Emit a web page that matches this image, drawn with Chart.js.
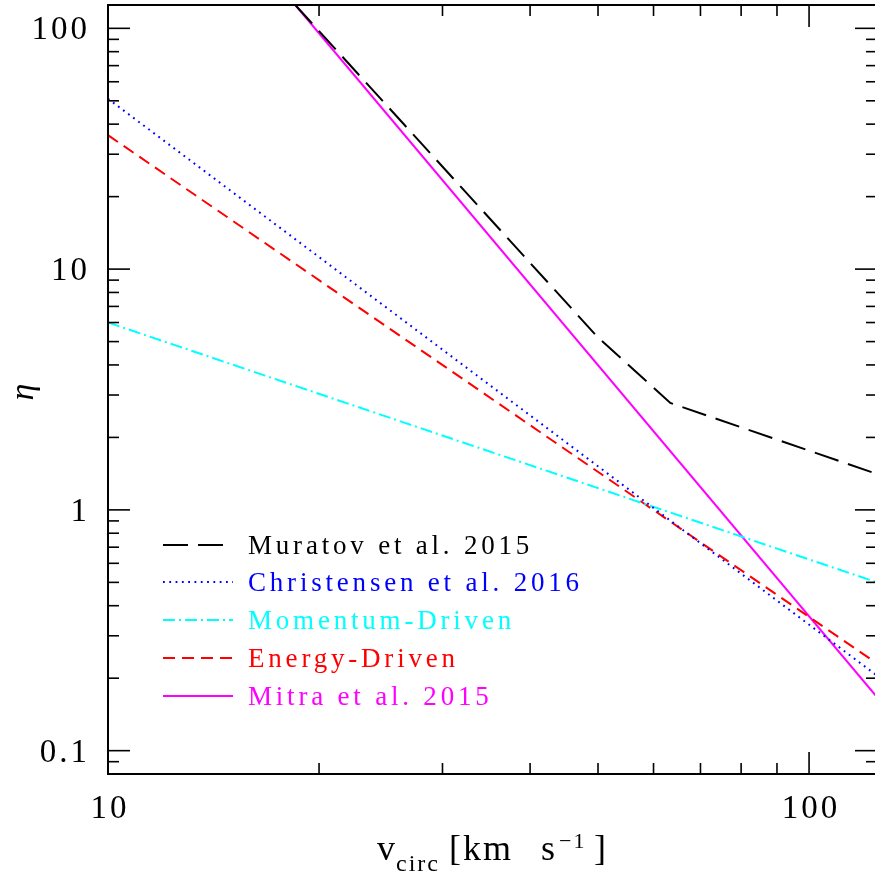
<!DOCTYPE html>
<html>
<head>
<meta charset="UTF-8">
<script src="https://cdn.jsdelivr.net/npm/chart.js"></script>
<style>
  html, body { margin: 0; padding: 0; background: #fff; overflow: hidden; }
  #wrap { width: 878px; height: 875px; }
</style>
</head>
<body>
<div id="wrap"><canvas id="etaChart" width="878" height="875"></canvas></div>
<script>
// values (v_circ in km/s, eta = mass loading)
const seriesNames = ["Muratov et al. 2015", "Christensen et al. 2016", "Momentum-Driven", "Energy-Driven", "Mitra et al. 2015"];
const muratovV = [18.5, 50, 63.4, 125];
const muratovEta = [125, 5.2, 2.78, 1.41];
const christensenV = [10, 125];
const christensenEta = [51, 0.205];
const momentumV = [10, 125];
const momentumEta = [6.0, 0.5];
const energyV = [10, 125];
const energyEta = [36, 0.23];
const mitraV = [18.5, 125];
const mitraEta = [125, 0.167];

const xTickLabels = [10, 100];
const yTickLabels = [0.1, 1, 10, 100];

function pts(xs, ys) {
    return xs.map((v, i) => ({x: v, y: ys[i]}));
}

const serif = '"Liberation Serif", "DejaVu Serif", serif';

const datasets = [
    {label: seriesNames[0], data: pts(muratovV, muratovEta), borderColor: '#000000', borderDash: [25, 10]},
    {label: seriesNames[1], data: pts(christensenV, christensenEta), borderColor: '#0000ff', borderDash: [1.8, 4.5]},
    {label: seriesNames[2], data: pts(momentumV, momentumEta), borderColor: '#00ffff', borderDash: [12, 4, 2, 4]},
    {label: seriesNames[3], data: pts(energyV, energyEta), borderColor: '#ff0000', borderDash: [12, 7]},
    {label: seriesNames[4], data: pts(mitraV, mitraEta), borderColor: '#ff00ff', borderDash: []},
];
datasets.forEach(d => {
    d.borderWidth = 2;
    d.pointRadius = 0;
    d.tension = 0;
    d.fill = false;
    d.borderCapStyle = 'butt';
});

function seg(ctx, x1, y1, x2, y2) {
    ctx.beginPath();
    ctx.moveTo(x1, y1);
    ctx.lineTo(x2, y2);
    ctx.stroke();
}

const axesPlugin = {
    id: 'axesPlugin',
    afterDraw(chart) {
        const ctx = chart.ctx;
        const a = chart.chartArea;
        const xs = chart.scales.x, ys = chart.scales.y;
        ctx.save();
        ctx.strokeStyle = '#000';
        ctx.lineWidth = 2;
        ctx.setLineDash([]);
        ctx.strokeRect(a.left, a.top, a.right - a.left, a.bottom - a.top);

        // inward ticks, log minor ticks at 2..9
        ctx.lineWidth = 1.6;
        for (let e = 1; e <= 2; e++) {
            for (let m = 1; m <= 9; m++) {
                const v = m * Math.pow(10, e);
                if (v < xs.min - 1e-9 || v > xs.max + 1e-9) continue;
                const px = xs.getPixelForValue(v);
                const len = m === 1 ? 22 : 11;
                seg(ctx, px, a.bottom, px, a.bottom - len);
                seg(ctx, px, a.top, px, a.top + len);
            }
        }
        for (let e = -2; e <= 2; e++) {
            for (let m = 1; m <= 9; m++) {
                const v = m * Math.pow(10, e);
                if (v < ys.min * 0.999 || v > ys.max * 1.001) continue;
                const py = ys.getPixelForValue(v);
                const len = m === 1 ? 22 : 11;
                seg(ctx, a.left, py, a.left + len, py);
                seg(ctx, a.right, py, a.right - len, py);
            }
        }

        // tick labels
        ctx.fillStyle = '#000';
        ctx.font = '33px ' + serif;
        ctx.letterSpacing = '3px';
        ctx.textBaseline = 'alphabetic';
        ctx.textAlign = 'right';
        yTickLabels.forEach(v => {
            ctx.fillText(String(v), 90, ys.getPixelForValue(v) + 11);
        });
        ctx.textAlign = 'center';
        xTickLabels.forEach(v => {
            ctx.fillText(String(v), xs.getPixelForValue(v) + 2, 818);
        });

        // x title: v_circ [km s^-1]
        ctx.textAlign = 'left';
        ctx.font = '36px ' + serif;
        ctx.letterSpacing = '2px';
        ctx.fillText('v', 377, 860);
        ctx.font = '24px ' + serif;
        ctx.fillText('circ', 396, 871);
        ctx.font = '36px ' + serif;
        ctx.fillText('[km', 449, 860);
        ctx.fillText('s', 541, 860);
        ctx.font = '22px ' + serif;
        ctx.fillText('\u22121', 559, 848);
        ctx.font = '36px ' + serif;
        ctx.fillText(']', 594, 860);

        // y title: eta
        ctx.save();
        ctx.translate(33, 392);
        ctx.rotate(-Math.PI / 2);
        ctx.textAlign = 'center';
        ctx.font = 'italic 34px ' + serif;
        ctx.letterSpacing = '0px';
        ctx.fillText('\u03b7', 0, 0);
        ctx.restore();

        // legend inside the plot
        const rows = [545, 582, 620, 658, 696];
        ctx.font = '27px ' + serif;
        ctx.letterSpacing = '3.8px';
        ctx.textAlign = 'left';
        chart.data.datasets.forEach((d, i) => {
            const y = rows[i];
            ctx.strokeStyle = d.borderColor;
            ctx.lineWidth = 2;
            ctx.lineCap = 'butt';
            ctx.setLineDash(d.borderDash);
            seg(ctx, 163, y, 233, y);
            ctx.setLineDash([]);
            ctx.fillStyle = d.borderColor;
            ctx.fillText(d.label, 248, y + 9);
        });
        ctx.restore();
    }
};

new Chart(document.getElementById('etaChart'), {
    type: 'line',
    data: {datasets: datasets},
    options: {
        responsive: false,
        animation: false,
        devicePixelRatio: 1,
        layout: {padding: {left: 108, top: 5, right: 1, bottom: 101}},
        plugins: {legend: {display: false}, tooltip: {enabled: false}},
        scales: {
            x: {type: 'logarithmic', min: 10, max: 125, display: false},
            y: {type: 'logarithmic', min: 0.08, max: 125, display: false}
        }
    },
    plugins: [axesPlugin]
});
</script>
</body>
</html>
